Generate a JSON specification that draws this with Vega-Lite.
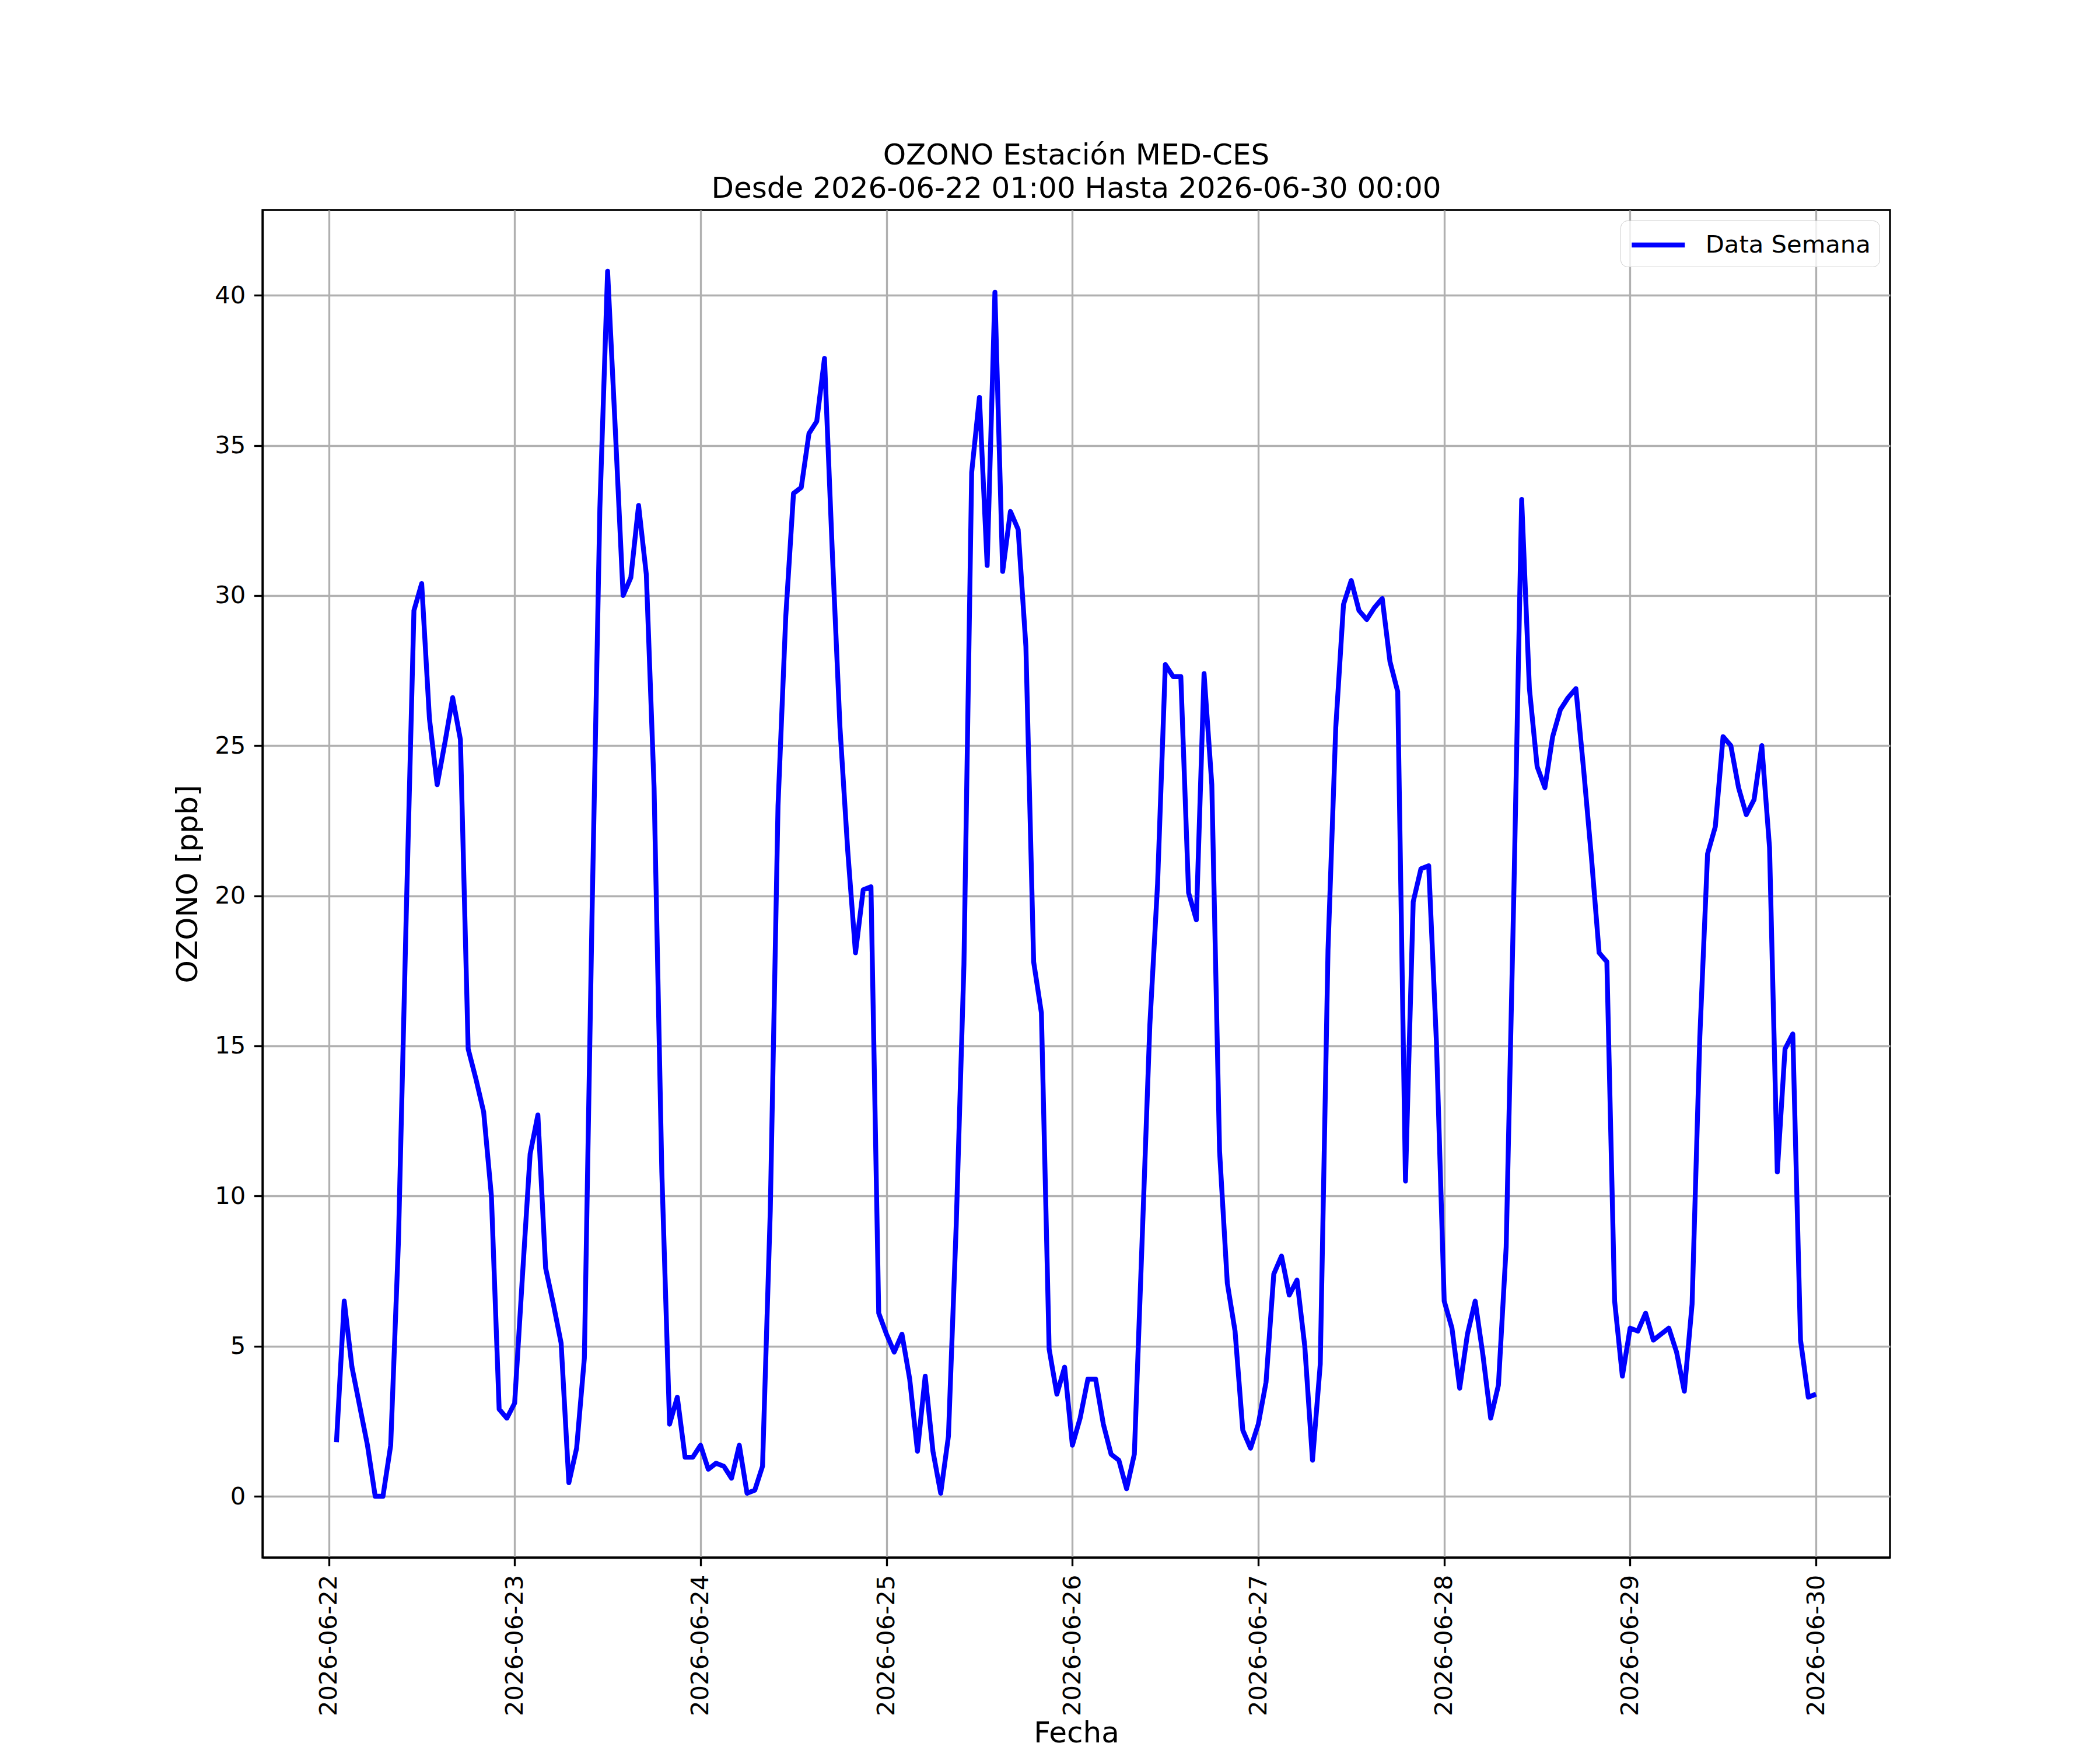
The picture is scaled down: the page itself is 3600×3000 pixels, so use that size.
{
  "$schema": "https://vega.github.io/schema/vega-lite/v6.json",
  "autosize": {"type": "none"},
  "padding": {"left": 450, "top": 360, "right": 360, "bottom": 330},
  "width": 2790,
  "height": 2310,
  "background": "white",
  "title": {
    "text": ["OZONO Estación MED-CES", "Desde 2026-06-22 01:00 Hasta 2026-06-30 00:00"],
    "font": "DejaVu Sans",
    "fontSize": 50,
    "fontWeight": "normal",
    "color": "black",
    "anchor": "middle",
    "lineHeight": 57,
    "offset": 11
  },
  "data": {
    "values": [
      {"t": "2026-06-22T01:00:00Z", "v": 1.8}, {"t": "2026-06-22T02:00:00Z", "v": 6.5}, {"t": "2026-06-22T03:00:00Z", "v": 4.3}, {"t": "2026-06-22T04:00:00Z", "v": 3.0},
      {"t": "2026-06-22T05:00:00Z", "v": 1.7}, {"t": "2026-06-22T06:00:00Z", "v": 0.0}, {"t": "2026-06-22T07:00:00Z", "v": 0.0}, {"t": "2026-06-22T08:00:00Z", "v": 1.7},
      {"t": "2026-06-22T09:00:00Z", "v": 8.5}, {"t": "2026-06-22T10:00:00Z", "v": 19.3}, {"t": "2026-06-22T11:00:00Z", "v": 29.5}, {"t": "2026-06-22T12:00:00Z", "v": 30.4},
      {"t": "2026-06-22T13:00:00Z", "v": 25.9}, {"t": "2026-06-22T14:00:00Z", "v": 23.7}, {"t": "2026-06-22T15:00:00Z", "v": 25.1}, {"t": "2026-06-22T16:00:00Z", "v": 26.6},
      {"t": "2026-06-22T17:00:00Z", "v": 25.2}, {"t": "2026-06-22T18:00:00Z", "v": 14.9}, {"t": "2026-06-22T19:00:00Z", "v": 13.9}, {"t": "2026-06-22T20:00:00Z", "v": 12.8},
      {"t": "2026-06-22T21:00:00Z", "v": 10.0}, {"t": "2026-06-22T22:00:00Z", "v": 2.9}, {"t": "2026-06-22T23:00:00Z", "v": 2.6}, {"t": "2026-06-23T00:00:00Z", "v": 3.1},
      {"t": "2026-06-23T01:00:00Z", "v": 7.3}, {"t": "2026-06-23T02:00:00Z", "v": 11.4}, {"t": "2026-06-23T03:00:00Z", "v": 12.7}, {"t": "2026-06-23T04:00:00Z", "v": 7.6},
      {"t": "2026-06-23T05:00:00Z", "v": 6.4}, {"t": "2026-06-23T06:00:00Z", "v": 5.1}, {"t": "2026-06-23T07:00:00Z", "v": 0.45}, {"t": "2026-06-23T08:00:00Z", "v": 1.6},
      {"t": "2026-06-23T09:00:00Z", "v": 4.6}, {"t": "2026-06-23T10:00:00Z", "v": 19.5}, {"t": "2026-06-23T11:00:00Z", "v": 32.9}, {"t": "2026-06-23T12:00:00Z", "v": 40.8},
      {"t": "2026-06-23T13:00:00Z", "v": 35.5}, {"t": "2026-06-23T14:00:00Z", "v": 30.0}, {"t": "2026-06-23T15:00:00Z", "v": 30.6}, {"t": "2026-06-23T16:00:00Z", "v": 33.0},
      {"t": "2026-06-23T17:00:00Z", "v": 30.7}, {"t": "2026-06-23T18:00:00Z", "v": 23.6}, {"t": "2026-06-23T19:00:00Z", "v": 10.8}, {"t": "2026-06-23T20:00:00Z", "v": 2.4},
      {"t": "2026-06-23T21:00:00Z", "v": 3.3}, {"t": "2026-06-23T22:00:00Z", "v": 1.3}, {"t": "2026-06-23T23:00:00Z", "v": 1.3}, {"t": "2026-06-24T00:00:00Z", "v": 1.7},
      {"t": "2026-06-24T01:00:00Z", "v": 0.9}, {"t": "2026-06-24T02:00:00Z", "v": 1.1}, {"t": "2026-06-24T03:00:00Z", "v": 1.0}, {"t": "2026-06-24T04:00:00Z", "v": 0.6},
      {"t": "2026-06-24T05:00:00Z", "v": 1.7}, {"t": "2026-06-24T06:00:00Z", "v": 0.1}, {"t": "2026-06-24T07:00:00Z", "v": 0.2}, {"t": "2026-06-24T08:00:00Z", "v": 1.0},
      {"t": "2026-06-24T09:00:00Z", "v": 9.5}, {"t": "2026-06-24T10:00:00Z", "v": 23.0}, {"t": "2026-06-24T11:00:00Z", "v": 29.3}, {"t": "2026-06-24T12:00:00Z", "v": 33.4},
      {"t": "2026-06-24T13:00:00Z", "v": 33.6}, {"t": "2026-06-24T14:00:00Z", "v": 35.4}, {"t": "2026-06-24T15:00:00Z", "v": 35.8}, {"t": "2026-06-24T16:00:00Z", "v": 37.9},
      {"t": "2026-06-24T17:00:00Z", "v": 31.5}, {"t": "2026-06-24T18:00:00Z", "v": 25.6}, {"t": "2026-06-24T19:00:00Z", "v": 21.5}, {"t": "2026-06-24T20:00:00Z", "v": 18.1},
      {"t": "2026-06-24T21:00:00Z", "v": 20.2}, {"t": "2026-06-24T22:00:00Z", "v": 20.3}, {"t": "2026-06-24T23:00:00Z", "v": 6.1}, {"t": "2026-06-25T00:00:00Z", "v": 5.4},
      {"t": "2026-06-25T01:00:00Z", "v": 4.8}, {"t": "2026-06-25T02:00:00Z", "v": 5.4}, {"t": "2026-06-25T03:00:00Z", "v": 3.9}, {"t": "2026-06-25T04:00:00Z", "v": 1.5},
      {"t": "2026-06-25T05:00:00Z", "v": 4.0}, {"t": "2026-06-25T06:00:00Z", "v": 1.5}, {"t": "2026-06-25T07:00:00Z", "v": 0.1}, {"t": "2026-06-25T08:00:00Z", "v": 2.0},
      {"t": "2026-06-25T09:00:00Z", "v": 9.0}, {"t": "2026-06-25T10:00:00Z", "v": 17.7}, {"t": "2026-06-25T11:00:00Z", "v": 34.1}, {"t": "2026-06-25T12:00:00Z", "v": 36.6},
      {"t": "2026-06-25T13:00:00Z", "v": 31.0}, {"t": "2026-06-25T14:00:00Z", "v": 40.1}, {"t": "2026-06-25T15:00:00Z", "v": 30.8}, {"t": "2026-06-25T16:00:00Z", "v": 32.8},
      {"t": "2026-06-25T17:00:00Z", "v": 32.2}, {"t": "2026-06-25T18:00:00Z", "v": 28.3}, {"t": "2026-06-25T19:00:00Z", "v": 17.8}, {"t": "2026-06-25T20:00:00Z", "v": 16.1},
      {"t": "2026-06-25T21:00:00Z", "v": 4.9}, {"t": "2026-06-25T22:00:00Z", "v": 3.4}, {"t": "2026-06-25T23:00:00Z", "v": 4.3}, {"t": "2026-06-26T00:00:00Z", "v": 1.7},
      {"t": "2026-06-26T01:00:00Z", "v": 2.6}, {"t": "2026-06-26T02:00:00Z", "v": 3.9}, {"t": "2026-06-26T03:00:00Z", "v": 3.9}, {"t": "2026-06-26T04:00:00Z", "v": 2.4},
      {"t": "2026-06-26T05:00:00Z", "v": 1.4}, {"t": "2026-06-26T06:00:00Z", "v": 1.2}, {"t": "2026-06-26T07:00:00Z", "v": 0.25}, {"t": "2026-06-26T08:00:00Z", "v": 1.4},
      {"t": "2026-06-26T09:00:00Z", "v": 8.5}, {"t": "2026-06-26T10:00:00Z", "v": 15.7}, {"t": "2026-06-26T11:00:00Z", "v": 20.4}, {"t": "2026-06-26T12:00:00Z", "v": 27.7},
      {"t": "2026-06-26T13:00:00Z", "v": 27.3}, {"t": "2026-06-26T14:00:00Z", "v": 27.3}, {"t": "2026-06-26T15:00:00Z", "v": 20.1}, {"t": "2026-06-26T16:00:00Z", "v": 19.2},
      {"t": "2026-06-26T17:00:00Z", "v": 27.4}, {"t": "2026-06-26T18:00:00Z", "v": 23.7}, {"t": "2026-06-26T19:00:00Z", "v": 11.5}, {"t": "2026-06-26T20:00:00Z", "v": 7.1},
      {"t": "2026-06-26T21:00:00Z", "v": 5.5}, {"t": "2026-06-26T22:00:00Z", "v": 2.2}, {"t": "2026-06-26T23:00:00Z", "v": 1.6}, {"t": "2026-06-27T00:00:00Z", "v": 2.4},
      {"t": "2026-06-27T01:00:00Z", "v": 3.8}, {"t": "2026-06-27T02:00:00Z", "v": 7.4}, {"t": "2026-06-27T03:00:00Z", "v": 8.0}, {"t": "2026-06-27T04:00:00Z", "v": 6.7},
      {"t": "2026-06-27T05:00:00Z", "v": 7.2}, {"t": "2026-06-27T06:00:00Z", "v": 5.0}, {"t": "2026-06-27T07:00:00Z", "v": 1.2}, {"t": "2026-06-27T08:00:00Z", "v": 4.4},
      {"t": "2026-06-27T09:00:00Z", "v": 18.2}, {"t": "2026-06-27T10:00:00Z", "v": 25.6}, {"t": "2026-06-27T11:00:00Z", "v": 29.7}, {"t": "2026-06-27T12:00:00Z", "v": 30.5},
      {"t": "2026-06-27T13:00:00Z", "v": 29.5}, {"t": "2026-06-27T14:00:00Z", "v": 29.2}, {"t": "2026-06-27T15:00:00Z", "v": 29.6}, {"t": "2026-06-27T16:00:00Z", "v": 29.9},
      {"t": "2026-06-27T17:00:00Z", "v": 27.8}, {"t": "2026-06-27T18:00:00Z", "v": 26.8}, {"t": "2026-06-27T19:00:00Z", "v": 10.5}, {"t": "2026-06-27T20:00:00Z", "v": 19.8},
      {"t": "2026-06-27T21:00:00Z", "v": 20.9}, {"t": "2026-06-27T22:00:00Z", "v": 21.0}, {"t": "2026-06-27T23:00:00Z", "v": 15.1}, {"t": "2026-06-28T00:00:00Z", "v": 6.5},
      {"t": "2026-06-28T01:00:00Z", "v": 5.6}, {"t": "2026-06-28T02:00:00Z", "v": 3.6}, {"t": "2026-06-28T03:00:00Z", "v": 5.4}, {"t": "2026-06-28T04:00:00Z", "v": 6.5},
      {"t": "2026-06-28T05:00:00Z", "v": 4.7}, {"t": "2026-06-28T06:00:00Z", "v": 2.6}, {"t": "2026-06-28T07:00:00Z", "v": 3.7}, {"t": "2026-06-28T08:00:00Z", "v": 8.3},
      {"t": "2026-06-28T09:00:00Z", "v": 20.2}, {"t": "2026-06-28T10:00:00Z", "v": 33.2}, {"t": "2026-06-28T11:00:00Z", "v": 26.9}, {"t": "2026-06-28T12:00:00Z", "v": 24.3},
      {"t": "2026-06-28T13:00:00Z", "v": 23.6}, {"t": "2026-06-28T14:00:00Z", "v": 25.3}, {"t": "2026-06-28T15:00:00Z", "v": 26.2}, {"t": "2026-06-28T16:00:00Z", "v": 26.6},
      {"t": "2026-06-28T17:00:00Z", "v": 26.9}, {"t": "2026-06-28T18:00:00Z", "v": 24.2}, {"t": "2026-06-28T19:00:00Z", "v": 21.3}, {"t": "2026-06-28T20:00:00Z", "v": 18.1},
      {"t": "2026-06-28T21:00:00Z", "v": 17.8}, {"t": "2026-06-28T22:00:00Z", "v": 6.5}, {"t": "2026-06-28T23:00:00Z", "v": 4.0}, {"t": "2026-06-29T00:00:00Z", "v": 5.6},
      {"t": "2026-06-29T01:00:00Z", "v": 5.5}, {"t": "2026-06-29T02:00:00Z", "v": 6.1}, {"t": "2026-06-29T03:00:00Z", "v": 5.2}, {"t": "2026-06-29T04:00:00Z", "v": 5.4},
      {"t": "2026-06-29T05:00:00Z", "v": 5.6}, {"t": "2026-06-29T06:00:00Z", "v": 4.8}, {"t": "2026-06-29T07:00:00Z", "v": 3.5}, {"t": "2026-06-29T08:00:00Z", "v": 6.4},
      {"t": "2026-06-29T09:00:00Z", "v": 15.3}, {"t": "2026-06-29T10:00:00Z", "v": 21.4}, {"t": "2026-06-29T11:00:00Z", "v": 22.3}, {"t": "2026-06-29T12:00:00Z", "v": 25.3},
      {"t": "2026-06-29T13:00:00Z", "v": 25.0}, {"t": "2026-06-29T14:00:00Z", "v": 23.6}, {"t": "2026-06-29T15:00:00Z", "v": 22.7}, {"t": "2026-06-29T16:00:00Z", "v": 23.2},
      {"t": "2026-06-29T17:00:00Z", "v": 25.0}, {"t": "2026-06-29T18:00:00Z", "v": 21.6}, {"t": "2026-06-29T19:00:00Z", "v": 10.8}, {"t": "2026-06-29T20:00:00Z", "v": 14.9},
      {"t": "2026-06-29T21:00:00Z", "v": 15.4}, {"t": "2026-06-29T22:00:00Z", "v": 5.2}, {"t": "2026-06-29T23:00:00Z", "v": 3.3}, {"t": "2026-06-30T00:00:00Z", "v": 3.4}
    ]
  },
  "mark": {"type": "line", "strokeWidth": 8.33, "strokeJoin": "round", "strokeCap": "butt", "clip": true},
  "encoding": {
    "x": {
      "field": "t",
      "type": "temporal",
      "title": "Fecha",
      "scale": {
        "type": "utc",
        "domain": [
          {"year": 2026, "month": 6, "date": 21, "hours": 15, "minutes": 27, "utc": true},
          {"year": 2026, "month": 6, "date": 30, "hours": 9, "minutes": 33, "utc": true}
        ],
        "nice": false
      },
      "axis": {
        "values": [
          {"year": 2026, "month": 6, "date": 22, "utc": true},
          {"year": 2026, "month": 6, "date": 23, "utc": true},
          {"year": 2026, "month": 6, "date": 24, "utc": true},
          {"year": 2026, "month": 6, "date": 25, "utc": true},
          {"year": 2026, "month": 6, "date": 26, "utc": true},
          {"year": 2026, "month": 6, "date": 27, "utc": true},
          {"year": 2026, "month": 6, "date": 28, "utc": true},
          {"year": 2026, "month": 6, "date": 29, "utc": true},
          {"year": 2026, "month": 6, "date": 30, "utc": true}
        ],
        "labelExpr": "utcFormat(datum.value, '%Y-%m-%d')",
        "labelAngle": 270,
        "titlePadding": 76
      }
    },
    "y": {
      "field": "v",
      "type": "quantitative",
      "title": "OZONO [ppb]",
      "scale": {"domain": [-2.04, 42.84], "nice": false, "zero": false},
      "axis": {"values": [0, 5, 10, 15, 20, 25, 30, 35, 40], "titlePadding": 20}
    },
    "color": {
      "datum": "Data Semana",
      "type": "nominal",
      "scale": {"range": ["#0000ff"]},
      "legend": {
        "title": null,
        "orient": "top-right",
        "offset": 18,
        "symbolType": "M-2,0H2",
        "symbolSize": 2070,
        "symbolStrokeWidth": 8.33,
        "symbolOffset": 22.75,
        "labelFont": "DejaVu Sans",
        "labelFontSize": 41.7,
        "labelColor": "black",
        "labelLimit": 1000,
        "labelOffset": 54,
        "fillColor": "rgba(255,255,255,0.8)",
        "strokeColor": "#cccccc",
        "cornerRadius": 12,
        "padding": 15
      }
    }
  },
  "config": {
    "view": {"stroke": "black", "strokeWidth": 3.33},
    "axis": {
      "domain": true,
      "domainColor": "black",
      "domainWidth": 3.33,
      "grid": true,
      "gridColor": "#b0b0b0",
      "gridWidth": 3.33,
      "ticks": true,
      "tickColor": "black",
      "tickWidth": 3.33,
      "tickSize": 14.6,
      "labelFont": "DejaVu Sans",
      "labelFontSize": 41.7,
      "labelColor": "black",
      "labelPadding": 14.6,
      "labelLimit": 1000,
      "labelOverlap": false,
      "labelFlush": false,
      "titleFont": "DejaVu Sans",
      "titleFontSize": 50,
      "titleFontWeight": "normal",
      "titleColor": "black",
      "titleLimit": 2000
    }
  }
}
